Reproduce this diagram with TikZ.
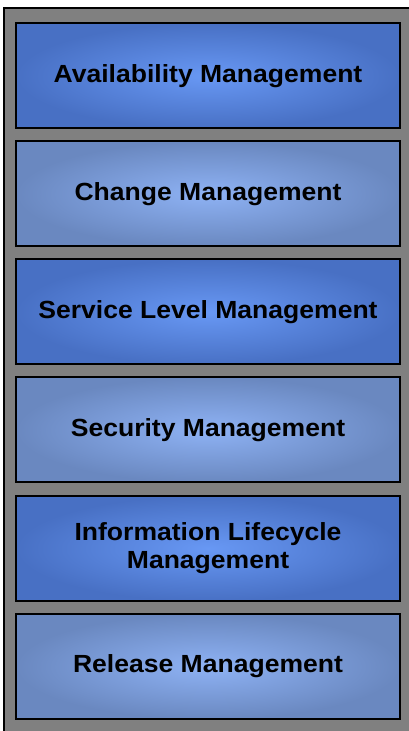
\documentclass[tikz,border=0pt]{standalone}
\usepackage{fontspec}
\setmainfont{Liberation Sans}[FakeStretch=1.07]
\usepackage{tikz}

\definecolor{panelgray}{RGB}{128,128,128}
\definecolor{darkedge}{RGB}{72,112,196}
\definecolor{darkmid}{RGB}{104,152,244}
\definecolor{lightedge}{RGB}{106,136,192}
\definecolor{lightmid}{RGB}{142,178,244}

\tikzset{
	mgmt/.style={rectangle, draw=black, line width=2pt, minimum width=384pt,
		minimum height=105pt, align=center, inner sep=0pt,
		font=\fontsize{24.8}{28}\selectfont\bfseries},
	darkbox/.style={mgmt, shading=radial, inner color=darkmid, outer color=darkedge},
	lightbox/.style={mgmt, shading=radial, inner color=lightmid, outer color=lightedge}
}

\begin{document}
\begin{tikzpicture}[x=1pt,y=1pt]
	\useasboundingbox (0,0) rectangle (409,731);
	\draw[fill=panelgray, line width=2pt] (4,-20) rectangle (430,723);

	\node[darkbox](avail) at (208,655) {Availability Management};
	\node[lightbox](change) at (208,537) {Change Management};
	\node[darkbox](slm) at (208,419) {Service Level Management};
	\node[lightbox](security) at (208,301) {Security Management};
	\node[darkbox](ilm) at (208,182.5) {Information Lifecycle\\Management};
	\node[lightbox](release) at (208,64.5) {Release Management};
\end{tikzpicture}
\end{document}
